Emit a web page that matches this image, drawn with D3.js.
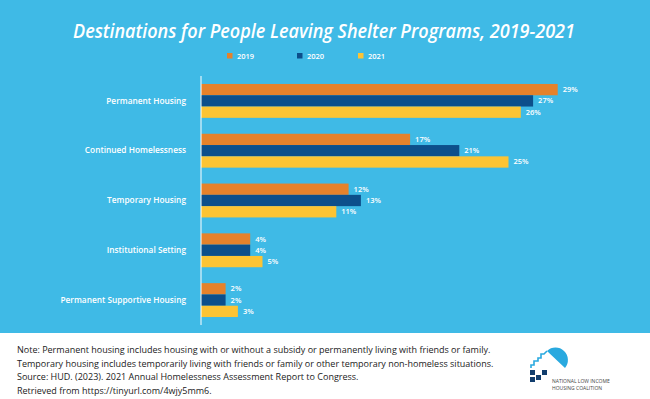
<!DOCTYPE html>
<html>
<head>
<meta charset="utf-8">
<script src="https://cdn.jsdelivr.net/npm/d3@7"></script>
<style>
  body { margin: 0; background: #fff; }
  svg { display: block; }
</style>
</head>
<body>
<div id="chart"></div>
<script>
const categories = ["Permanent Housing", "Continued Homelessness", "Temporary Housing", "Institutional Setting", "Permanent Supportive Housing"];
const years = ["2019", "2020", "2021"];
const values2019 = [29, 17, 12, 4, 2];
const values2020 = [27, 21, 13, 4, 2];
const values2021 = [26, 25, 11, 5, 3];
const notes = [
  "Note: Permanent housing includes housing with or without a subsidy or permanently living with friends or family.",
  "Temporary housing includes temporarily living with friends or family or other temporary non-homeless situations.",
  "Source: HUD. (2023). 2021 Annual Homelessness Assessment Report to Congress.",
  "Retrieved from https://tinyurl.com/4wjy5mm6."
];

let width = 650, height = 399;
const bg = "#3fbae6";
const colors = ["#e5822b", "#0c4f8b", "#fcc434"];

const series = [values2019, values2020, values2021];
const rows = categories.map((c, i) => ({
    cat: c,
    vals: years.map((y, j) => ({year: y, v: series[j][i], k: j}))
}));

const svg = d3.select("#chart")
    .append("svg")
    .attr("width", width)
    .attr("height", height);

svg.append("rect")
    .attr("width", width)
    .attr("height", 333)
    .attr("fill", bg);

// title
svg.append("text")
    .attr("x", 73)
    .attr("y", 38)
    .attr("textLength", 502)
    .attr("lengthAdjust", "spacingAndGlyphs")
    .attr("font-family", "Open Sans")
    .attr("font-style", "italic")
    .attr("font-weight", 600)
    .attr("font-size", 19)
    .attr("fill", "#fff")
    .text("Destinations for People Leaving Shelter Programs, 2019-2021");

// legend
const legendX = [227, 297, 358];
const legend = svg.selectAll(".legend")
    .data(years)
    .enter()
    .append("g")
    .attr("class", "legend")
    .attr("transform", (d, i) => "translate(" + legendX[i] + ",56)");

legend.append("rect")
    .attr("x", 0)
    .attr("y", -3)
    .attr("width", 5.5)
    .attr("height", 5.5)
    .attr("fill", (d, i) => colors[i]);

legend.append("text")
    .attr("x", 10)
    .attr("y", 3)
    .attr("font-family", "Open Sans")
    .attr("font-weight", 600)
    .attr("font-size", 7.5)
    .attr("fill", "#fff")
    .text(d => d);

const x = d3.scaleLinear()
    .domain([0, 30])
    .range([201, 570]);

const y = d3.scaleBand()
    .domain(categories)
    .range([76, 325])
    .paddingInner(0.32)
    .paddingOuter(0.16);

const yInner = d3.scaleBand()
    .domain(years)
    .range([0, y.bandwidth()]);

const groups = svg.selectAll(".group")
    .data(rows)
    .enter()
    .append("g")
    .attr("class", "group")
    .attr("transform", d => "translate(0," + y(d.cat) + ")");

groups.selectAll("rect")
    .data(d => d.vals)
    .enter()
    .append("rect")
    .attr("x", x(0))
    .attr("y", d => yInner(d.year))
    .attr("width", d => x(d.v) - x(0))
    .attr("height", yInner.bandwidth())
    .attr("fill", d => colors[d.k]);

groups.selectAll(".val")
    .data(d => d.vals)
    .enter()
    .append("text")
    .attr("class", "val")
    .attr("x", d => x(d.v) + 5)
    .attr("y", d => yInner(d.year) + yInner.bandwidth() / 2 + 2.5)
    .attr("font-family", "Open Sans")
    .attr("font-weight", 600)
    .attr("font-size", 7.5)
    .attr("fill", "#fff")
    .text(d => d.v + "%");

// category axis
const yAxis = svg.append("g")
    .attr("transform", "translate(" + x(0) + ",0)")
    .call(d3.axisLeft(y).tickSize(0).tickPadding(15));

yAxis.select(".domain")
    .attr("d", "M0,76V325")
    .attr("stroke", "#fff")
    .attr("stroke-width", 1);

yAxis.selectAll("text")
    .attr("font-family", "Open Sans")
    .attr("font-weight", 600)
    .attr("font-size", 8.3)
    .attr("fill", "#fff");

// footer notes
svg.selectAll(".note")
    .data(notes)
    .enter()
    .append("text")
    .attr("class", "note")
    .attr("x", 17)
    .attr("y", (d, i) => 353 + i * 13.5)
    .attr("font-family", "Open Sans")
    .attr("font-size", 9)
    .attr("fill", "#222")
    .text(d => d);

// logo
const logo = svg.append("g");
logo.append("path")
    .attr("d", "M547,351 A12.4,12.4 0 0 1 565,368 Z")
    .attr("fill", "#29a9df");
logo.append("path")
    .attr("d", "M531,368 L531,365 L534,365 L534,361 L538,361 L538,358 L541,358 L541,354 L544,354 L547,351")
    .attr("fill", "none")
    .attr("stroke", "#29a9df")
    .attr("stroke-width", 1.6);
const sq = [[530, 370], [536, 375], [530, 377], [542, 370]];
logo.selectAll(".sq")
    .data(sq)
    .enter()
    .append("rect")
    .attr("x", d => d[0])
    .attr("y", d => d[1])
    .attr("width", 5)
    .attr("height", 5)
    .attr("fill", "#123e6e");
logo.append("text")
    .attr("x", 552)
    .attr("y", 383)
    .attr("font-family", "Open Sans")
    .attr("font-size", 5)
    .attr("fill", "#444")
    .text("NATIONAL LOW INCOME");
logo.append("text")
    .attr("x", 552)
    .attr("y", 389.5)
    .attr("font-family", "Open Sans")
    .attr("font-size", 5)
    .attr("fill", "#444")
    .text("HOUSING COALITION");
</script>
</body>
</html>
